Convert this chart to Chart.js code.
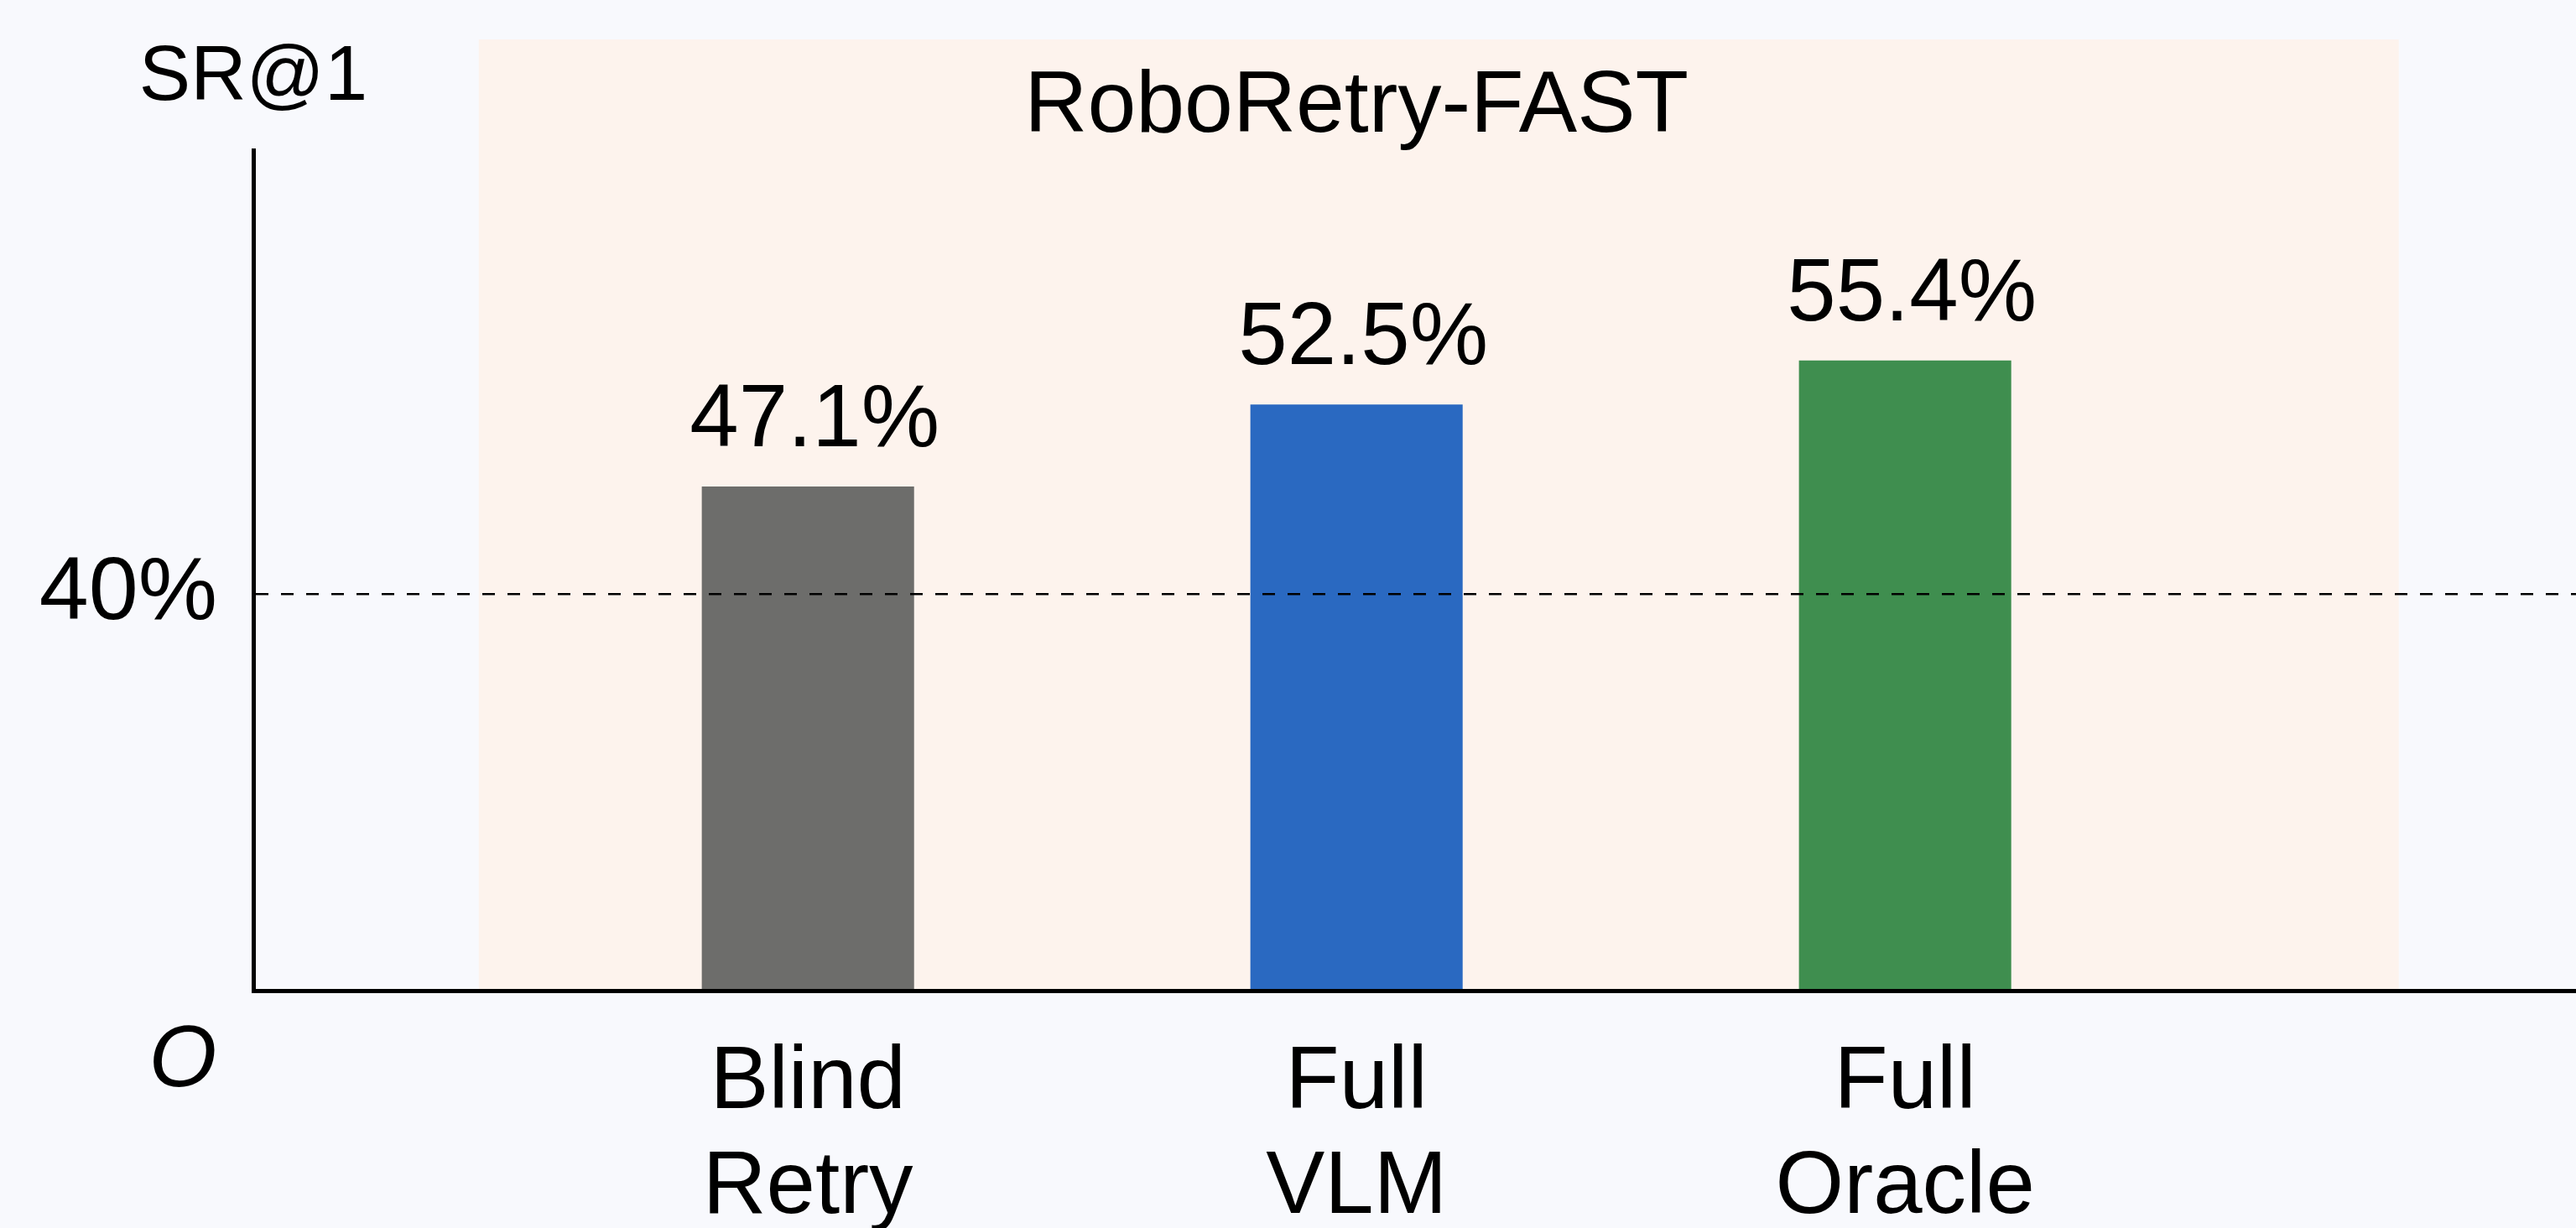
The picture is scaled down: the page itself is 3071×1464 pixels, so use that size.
<!DOCTYPE html>
<html>
<head>
<meta charset="utf-8">
<title>RoboRetry-FAST SR@1</title>
<script src="https://cdn.jsdelivr.net/npm/chart.js@4.4.1/dist/chart.umd.min.js"></script>
<style>
  html, body { margin: 0; padding: 0; background: #f8f9fd; }
  #chart { display: block; }
</style>
</head>
<body>
<canvas id="chart" width="3071" height="1464"></canvas>
<script>
// chart data
const categories = [['Blind', 'Retry'], ['Full', 'VLM'], ['Full', 'Oracle']];
const srValues = [47.1, 52.5, 55.4];
const yTicks = [40];
const panelTitle = 'RoboRetry-FAST';
const yAxisName = 'SR@1';
const originName = 'O';

const FONT = "'Liberation Sans', Arial, Helvetica, sans-serif";

// beige panel, title, axis name, origin mark and value labels
const decorations = {
  id: 'decorations',
  beforeDraw: (chart, args, opts) => {
    const { ctx, chartArea, scales: { x } } = chart;
    const left = x.getPixelForValue(opts.panelFrom);
    const right = x.getPixelForValue(opts.panelTo);
    ctx.save();
    ctx.fillStyle = opts.panelColor;
    ctx.fillRect(left, opts.panelTop, right - left, chartArea.bottom - opts.panelTop);
    ctx.restore();
  },
  afterDraw: (chart) => {
    const { ctx, chartArea, scales: { x } } = chart;
    ctx.save();
    ctx.fillStyle = '#000';
    ctx.textAlign = 'center';
    ctx.textBaseline = 'alphabetic';

    ctx.font = `104px ${FONT}`;
    ctx.fillText(panelTitle, x.getPixelForValue(1), 157);

    ctx.font = `92px ${FONT}`;
    ctx.fillText(yAxisName, chartArea.left, 119);

    ctx.font = `italic 104px ${FONT}`;
    ctx.fillText(originName, chartArea.left - 84, chartArea.bottom + 114);

    ctx.font = `105px ${FONT}`;
    chart.getDatasetMeta(0).data.forEach((bar, i) => {
      ctx.fillText(srValues[i].toFixed(1) + '%', bar.x + 8, bar.y - 48);
    });
    ctx.restore();
  },
};

const ctx = document.getElementById('chart').getContext('2d');
new Chart(ctx, {
  type: 'bar',
  data: {
    datasets: [{
      label: 'SR@1',
      data: srValues.map((v, i) => ({ x: i, y: v })),
      backgroundColor: ['#6d6d6b', '#2a69c1', '#3f8e4f'],
      borderWidth: 0,
      categoryPercentage: 1,
      barPercentage: 0.387,
    }],
  },
  options: {
    responsive: false,
    devicePixelRatio: 1,
    animation: false,
    layout: { padding: { top: 179, right: 0, bottom: 0, left: 0 } },
    plugins: {
      legend: { display: false },
      tooltip: { enabled: false },
      decorations: {
        panelColor: '#fdf3ed',
        panelFrom: -0.6,
        panelTo: 2.9,
        panelTop: 47,
      },
    },
    scales: {
      x: {
        type: 'linear',
        offset: false,
        bounds: 'data',
        min: -1.011,
        max: 3.223,
        afterBuildTicks: (axis) => {
          axis.ticks = categories.map((c, i) => ({ value: i }));
        },
        afterFit: (axis) => { axis.height = 283; },
        grid: { display: false, offset: false },
        border: { display: true, color: '#000', width: 5, z: 1 },
        ticks: {
          autoSkip: false,
          maxRotation: 0,
          padding: 40,
          color: '#000',
          font: { family: FONT, size: 105, lineHeight: 1.195 },
          callback: (value) => categories[value],
        },
      },
      y: {
        type: 'linear',
        min: 13.9,
        max: 69.26,
        afterBuildTicks: (axis) => {
          axis.ticks = yTicks.map((v) => ({ value: v }));
        },
        afterFit: (axis) => { axis.width = 302; },
        grid: { color: '#000', lineWidth: 2.5, drawTicks: false, z: 1 },
        border: { display: true, color: '#000', width: 5, dash: [15, 15], z: 2 },
        ticks: {
          padding: 43,
          color: '#000',
          font: { family: FONT, size: 106 },
          callback: (v) => v + '%',
        },
      },
    },
  },
  plugins: [decorations],
});
</script>
</body>
</html>
